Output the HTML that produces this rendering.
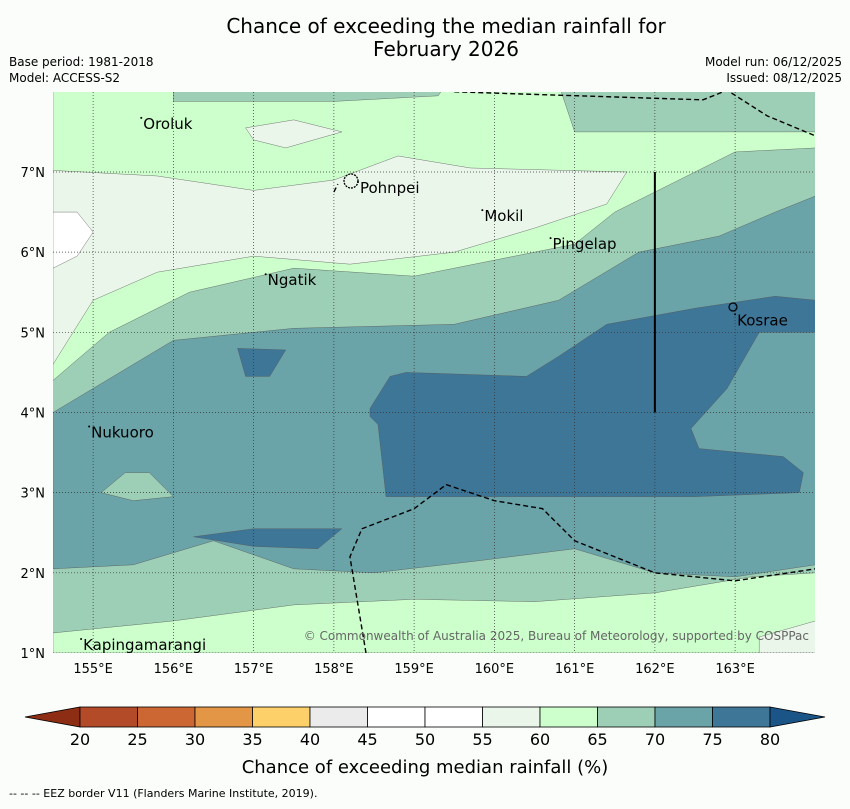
<!DOCTYPE html>
<html><head><meta charset="utf-8"><style>
body{margin:0;background:#fbfdfb;width:850px;height:804px;overflow:hidden;font-family:"Liberation Sans",sans-serif}
</style></head><body>
<svg width="850" height="804" viewBox="0 0 850 804" font-family="DejaVu Sans, Liberation Sans, sans-serif">
<rect width="850" height="804" fill="#fbfdfb"/>
<text x="446" y="33" font-size="20" text-anchor="middle">Chance of exceeding the median rainfall for</text>
<text x="446" y="56" font-size="20" text-anchor="middle">February 2026</text>
<text x="9" y="66" font-size="12">Base period: 1981-2018</text>
<text x="9" y="82" font-size="12">Model: ACCESS-S2</text>
<text x="842" y="66" font-size="12" text-anchor="end">Model run: 06/12/2025</text>
<text x="842" y="82" font-size="12" text-anchor="end">Issued: 08/12/2025</text>
<defs><clipPath id="mc"><rect x="53" y="92" width="762" height="561"/></clipPath></defs>
<g id="map" clip-path="url(#mc)"></g>
<g id="cbar"></g>
<text x="425" y="773" font-size="18" text-anchor="middle">Chance of exceeding median rainfall (%)</text>
<text x="9" y="797" font-size="11">--  --  -- EEZ border V11 (Flanders Marine Institute, 2019).</text>
</svg>
<script>
const levels=[20,25,30,35,40,45,50,55,60,65,70,75,80];
const levelColors=["#b34a28","#cc6633","#e39645","#fdd06a","#ebebeb","#ffffff","#ffffff","#ebf6eb","#ccffcc","#9ccfb6","#6aa3a8","#3e7698"];
const lonTicks=[155,156,157,158,159,160,161,162,163];
const latTicks=[1,2,3,4,5,6,7];
const places=[["Oroluk",155.6,7.6],["Pohnpei",158.3,6.8],["Mokil",159.85,6.45],["Pingelap",160.7,6.1],["Ngatik",157.15,5.65],["Kosrae",163.0,5.15],["Nukuoro",154.95,3.75],["Kapingamarangi",154.85,1.1]];
// contour regions [value band, points lon/lat]
const bands=[
 [65,[[154.5,8],[164,8],[164,1],[154.5,1]]],
 [60,[[154.5,8.1],[156,8.1],[156,7.88],[158,7.88],[159.3,7.95],[159.4,8.1],[160.8,8.1],[161,7.5],[164,7.5],[164,7.3],[163,7.25],[162.5,7],[161.5,6.5],[161,6.1],[160,5.9],[159,5.7],[157.5,5.8],[156.2,5.5],[155.2,5.0],[154.5,4.4]]],
 [55,[[154.5,7.02],[155.8,6.95],[157,6.77],[158,6.9],[158.8,7.2],[159.7,7.05],[161.65,7.0],[161.4,6.6],[160.5,6.3],[159.5,6.0],[158.2,5.85],[157.0,5.95],[155.8,5.75],[155.0,5.4],[154.5,4.6]]],
 [50,[[154.5,6.5],[154.8,6.5],[155,6.25],[154.8,5.95],[154.5,5.8]]],
 [55,[[156.9,7.55],[157.5,7.65],[158.1,7.5],[157.4,7.3],[157,7.4]]],
 [70,[[154.5,4.0],[155,4.3],[156,4.9],[157.5,5.05],[159.5,5.1],[160.8,5.4],[161.8,6.0],[162.8,6.2],[163.5,6.5],[164,6.7],[164,2.1],[163,1.95],[162,2.0],[161,2.3],[159.8,2.15],[158.5,2.0],[157.5,2.05],[156.5,2.4],[155.5,2.1],[154.5,2.05]]],
 [75,[[158.45,4.05],[158.7,4.45],[158.9,4.5],[160.4,4.45],[160.8,4.7],[161.4,5.1],[162.5,5.3],[163.5,5.45],[164,5.4],[164,5.0],[163.3,5.0],[162.9,4.3],[162.45,3.8],[162.55,3.55],[163.6,3.45],[163.85,3.25],[163.8,3.0],[162.5,2.95],[161.2,2.95],[160.4,2.95],[158.65,2.95],[158.6,3.4],[158.55,3.85],[158.45,3.95]]],
 [75,[[156.8,4.8],[157.4,4.78],[157.2,4.45],[156.9,4.45]]],
 [75,[[156.25,2.45],[157,2.55],[158.1,2.55],[157.8,2.3],[157,2.33]]],
 [65,[[155.1,3.0],[155.4,3.25],[155.7,3.25],[156,2.95],[155.5,2.9]]],
 [60,[[154.5,1.25],[156,1.4],[157.5,1.6],[159,1.67],[160.5,1.64],[162,1.75],[163.2,1.95],[164,2.0],[164,1],[154.5,1]]],
 [55,[[163.3,1.2],[164,1.4],[164,1],[163.3,1]]]
];
const eez1=[[158.4,1],[158.3,1.6],[158.2,2.2],[158.35,2.55],[159,2.8],[159.4,3.1],[160,2.9],[160.6,2.8],[161,2.4],[162,2.0],[163,1.9],[164,2.05]];
const eez2=[[158.0,6.75],[158.05,6.85]];
const eez3=[[159.5,8],[162.6,7.9],[162.9,8.02],[163.4,7.7],[164,7.45]];
const X=l=>53+(l-154.5)*80.25, Y=a=>653-(a-1)*80.17;
const ns="http://www.w3.org/2000/svg";
const map=document.getElementById('map');
function mk(t,a,p){const e=document.createElementNS(ns,t);for(const k in a)e.setAttribute(k,a[k]);p.appendChild(e);return e;}
function col(v){return levelColors[levels.indexOf(v)];}
bands.forEach((b,i)=>{
 const p=mk('polygon',{points:b[1].map(q=>X(q[0])+','+Y(q[1])).join(' '),fill:col(b[0]),stroke:'#555','stroke-width':i==0?0:0.4},map);
 
 
});
lonTicks.forEach(l=>{const e=mk('line',{x1:X(l),x2:X(l),y1:92,y2:653,stroke:'#333','stroke-width':0.7,'stroke-dasharray':'1,2'},map);
 });
latTicks.forEach(a=>{const e=mk('line',{x1:53,x2:815,y1:Y(a),y2:Y(a),stroke:'#333','stroke-width':0.7,'stroke-dasharray':'1,2'},map);
 });
[eez1,eez2,eez3].forEach(L=>{const e=mk('polyline',{points:L.map(q=>X(q[0])+','+Y(q[1])).join(' '),fill:'none',stroke:'#000','stroke-width':1.4,'stroke-dasharray':'5,3'},map);
 });
const vl=mk('line',{x1:X(162),x2:X(162),y1:Y(7),y2:Y(4),stroke:'#000','stroke-width':2},map);

const svg=document.querySelector('svg');
places.forEach(p=>{const t=mk('text',{x:X(p[1])+2,y:Y(p[2])+5,'font-size':15},svg);t.textContent=p[0];
 
 const d=mk('circle',{cx:X(p[1]),cy:Y(p[2])-6,r:1,fill:'#000'},svg);});
const pn=mk('circle',{cx:351,cy:181,r:7,fill:'none',stroke:'#000','stroke-width':1.3,'stroke-dasharray':'2,1'},svg);

const ks=mk('circle',{cx:733,cy:307,r:4,fill:'none',stroke:'#000','stroke-width':1.2},svg);

const cr=mk('text',{x:809,y:640,'font-size':12,fill:'#666','text-anchor':'end'},svg);cr.textContent='© Commonwealth of Australia 2025, Bureau of Meteorology, supported by COSPPac';

lonTicks.forEach(l=>{const t=mk('text',{x:X(l),y:673,'font-size':13,'text-anchor':'middle'},svg);t.textContent=l+'°E';
 });
latTicks.forEach(a=>{const t=mk('text',{x:45,y:Y(a)+5,'font-size':13,'text-anchor':'end'},svg);t.textContent=a+'°N';
 });
// colorbar
const cb=document.getElementById('cbar');const cx0=80,cw=57.5,cy=707,ch=20;
const tl=mk('polygon',{points:`25,717 ${cx0},${cy} ${cx0},${cy+ch}`,fill:'#8c2d14',stroke:'#000','stroke-width':0.8},cb);

levelColors.forEach((c,i)=>{const r=mk('rect',{x:cx0+i*cw,y:cy,width:cw,height:ch,fill:c,stroke:'#000','stroke-width':0.8},cb);
 });
const xe=cx0+levelColors.length*cw;
const tr=mk('polygon',{points:`${xe},${cy} 825,717 ${xe},${cy+ch}`,fill:'#1b5486',stroke:'#000','stroke-width':0.8},cb);

levels.forEach((v,i)=>{const t=mk('text',{x:cx0+i*cw,y:745,'font-size':16,'text-anchor':'middle'},cb);t.textContent=v;
 });
</script>
</body></html>
